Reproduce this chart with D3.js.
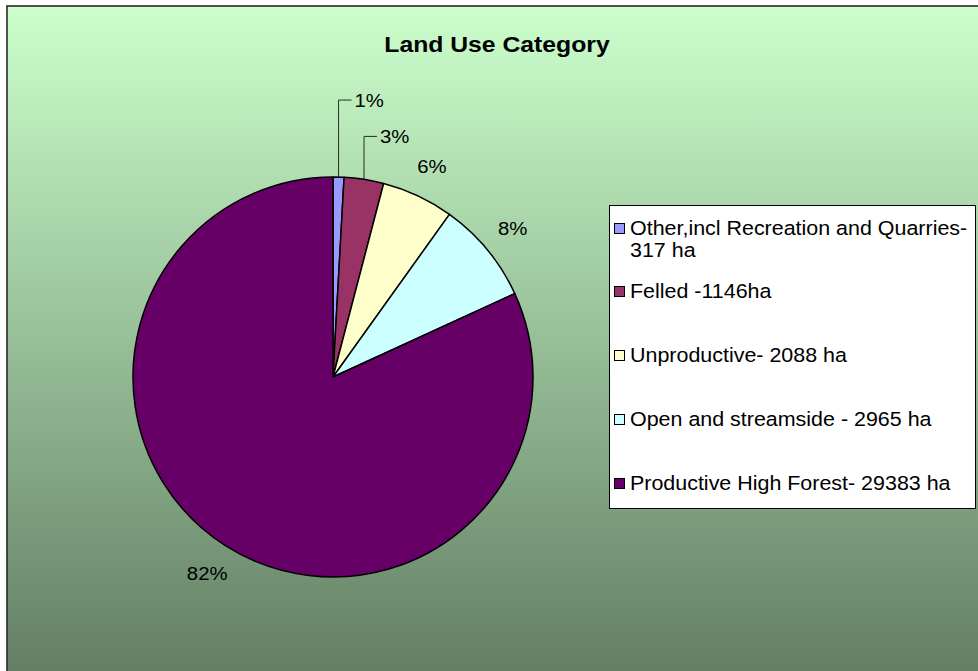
<!DOCTYPE html>
<html>
<head>
<meta charset="utf-8">
<script src="https://cdn.jsdelivr.net/npm/d3@7"></script>
<style>
  html, body { margin: 0; padding: 0; background: #ffffff; }
  svg { display: block; }
  text { font-family: Arial, "Liberation Sans", sans-serif; fill: #000; }
</style>
</head>
<body>
<script>
// Land use areas (ha) and their legend labels
const categories = [
  "Other,incl Recreation and Quarries-\n317 ha",
  "Felled -1146ha",
  "Unproductive- 2088 ha",
  "Open and streamside - 2965 ha",
  "Productive High Forest- 29383 ha"
];
const areas = [317, 1146, 2088, 2965, 29383];
const colors = ["#9999FF", "#993366", "#FFFFCC", "#CCFFFF", "#660066"];
const title = "Land Use Category";

// Small slices get their labels lifted above the pie with an elbow leader.
const leaderRise = [77, 43, 0, 0, 0];

const W = 978, H = 671;
const cx = 333, cy = 377, R = 200, labelR = 233;
const stretch = 1.1; // text is drawn slightly wide

const svg = d3.select("body").append("svg")
  .attr("width", W).attr("height", H);

// Background gradient
const defs = svg.append("defs");
const grad = defs.append("linearGradient")
  .attr("id", "bg").attr("x1", 0).attr("y1", 0).attr("x2", 0).attr("y2", 1);
grad.append("stop").attr("offset", "0%").attr("stop-color", "#CCFFCC");
grad.append("stop").attr("offset", "100%").attr("stop-color", "#5F7A60");

svg.append("rect")
  .attr("x", 7).attr("y", 6).attr("width", W + 20).attr("height", H + 20)
  .attr("fill", "url(#bg)")
  .attr("stroke", "#2a2a2a").attr("stroke-width", 1.6);

// Helper: text placed at (x, y) with horizontal stretch
function label(parent, x, y, str, size, anchor, bold) {
  const t = parent.append("text")
    .attr("transform", `translate(${x},${y}) scale(${stretch},1)`)
    .attr("font-size", size)
    .attr("text-anchor", anchor || "start");
  if (bold) t.attr("font-weight", "bold");
  return t.text(str);
}

// Title
label(svg, 497, 52, title, 22.5, "middle", true);

// Pie
const total = d3.sum(areas);
const pie = d3.pie().sort(null).value(d => d)(areas);
const arc = d3.arc().innerRadius(0).outerRadius(R);

const g = svg.append("g").attr("transform", `translate(${cx},${cy})`);
g.selectAll("path.slice")
  .data(pie)
  .join("path")
  .attr("class", "slice")
  .attr("d", arc)
  .attr("fill", (d, i) => colors[i])
  .attr("stroke", "#000")
  .attr("stroke-width", 1.5)
  .attr("stroke-linejoin", "round");

// Percentage labels
const pct = d => Math.round(d.value / total * 100) + "%";
pie.forEach((d, i) => {
  const a = (d.startAngle + d.endAngle) / 2;
  if (leaderRise[i] > 0) {
    const ex = R * Math.sin(a), ey = -R * Math.cos(a);
    const ly = ey - leaderRise[i];
    g.append("path")
      .attr("d", `M${ex},${ey}V${ly}H${ex + 13}`)
      .attr("fill", "none").attr("stroke", "#000").attr("stroke-width", 0.8);
    label(g, ex + 16, ly + 6.5, pct(d), 18.5);
  } else {
    label(g, labelR * Math.sin(a), -labelR * Math.cos(a) + 6.5, pct(d), 18.5, "middle");
  }
});

// Legend
const lg = svg.append("g");
lg.append("rect")
  .attr("x", 609.5).attr("y", 205.5).attr("width", 366).attr("height", 303)
  .attr("fill", "#fff").attr("stroke", "#000").attr("stroke-width", 1);

const rowY = [235, 298, 362, 426, 490];
categories.forEach((c, i) => {
  lg.append("rect")
    .attr("x", 614.5).attr("y", rowY[i] - 11.5).attr("width", 10).attr("height", 10)
    .attr("fill", colors[i]).attr("stroke", "#000").attr("stroke-width", 1);
  c.split("\n").forEach((line, j) => {
    label(lg, 630, rowY[i] + j * 22, line, 19.5);
  });
});
</script>
</body>
</html>
